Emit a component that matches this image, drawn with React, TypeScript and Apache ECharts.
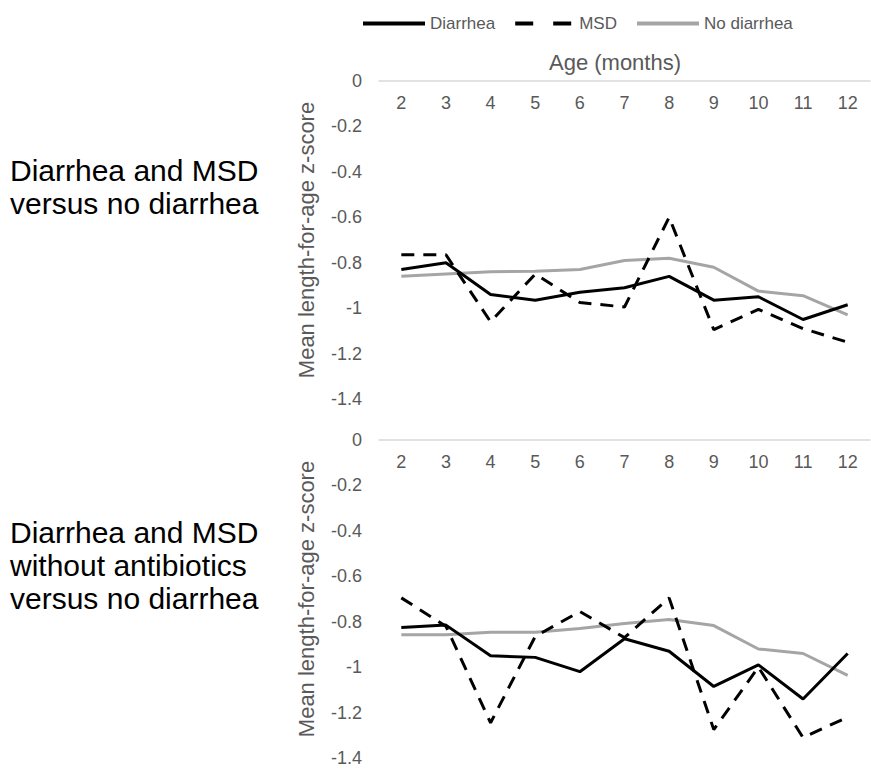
import React, { useEffect, useRef } from "react";
import * as echarts from "echarts";

const months = ["2", "3", "4", "5", "6", "7", "8", "9", "10", "11", "12"];
const yTicks = [0, -0.2, -0.4, -0.6, -0.8, -1, -1.2, -1.4];
const legendNames = ["Diarrhea", "MSD", "No diarrhea"];

// Panel 1: Diarrhea and MSD versus no diarrhea
const p1Diarrhea = [-0.83, -0.80, -0.94, -0.965, -0.93, -0.91, -0.86, -0.965, -0.95, -1.05, -0.985];
const p1MSD = [-0.765, -0.765, -1.06, -0.85, -0.975, -0.995, -0.6, -1.095, -1.005, -1.09, -1.15];
const p1NoDiarrhea = [-0.86, -0.85, -0.84, -0.838, -0.83, -0.79, -0.78, -0.82, -0.925, -0.945, -1.03];

// Panel 2: Diarrhea and MSD without antibiotics versus no diarrhea
const p2Diarrhea = [-0.825, -0.815, -0.95, -0.957, -1.02, -0.875, -0.93, -1.085, -0.99, -1.14, -0.94];
const p2MSD = [-0.695, -0.82, -1.245, -0.865, -0.755, -0.87, -0.695, -1.275, -1.0, -1.31, -1.22];
const p2NoDiarrhea = [-0.857, -0.857, -0.846, -0.846, -0.83, -0.808, -0.79, -0.817, -0.92, -0.94, -1.036];

const title1 = "Diarrhea and MSD\nversus no diarrhea";
const title2 = "Diarrhea and MSD\nwithout antibiotics\nversus no diarrhea";
const xName = "Age (months)";
const yName = "Mean length-for-age z-score";

const FONT = "Liberation Sans, Arial, sans-serif";
const TICK_COLOR = "#595959";
const BLACK = "#000000";
const GRAY = "#A5A5A5";

export default function App() {
  const ref = useRef<HTMLDivElement>(null);

  useEffect(() => {
    if (!ref.current) return;
    const chart = echarts.init(ref.current, undefined, { renderer: "svg" });

    const grids = [
      { left: 379, right: 1, top: 81, height: 318 },
      { left: 379, right: 1, top: 440, height: 318 },
    ];

    const xAxes = [0, 1].map((i) => ({
      type: "category",
      gridIndex: i,
      data: months,
      position: "top",
      boundaryGap: true,
      axisLine: { show: true, lineStyle: { color: "#D9D9D9", width: 1.5 } },
      axisTick: { show: false },
      axisLabel: {
        inside: true,
        margin: 13,
        color: TICK_COLOR,
        fontSize: 18,
        fontFamily: FONT,
      },
      splitLine: { show: false },
    }));

    const yAxes = [0, 1].map((i) => ({
      type: "value",
      gridIndex: i,
      min: -1.4,
      max: 0,
      interval: 0.2,
      name: yName,
      nameLocation: "middle",
      nameRotate: 90,
      nameGap: 62,
      nameTextStyle: { color: TICK_COLOR, fontSize: 22, fontFamily: FONT },
      axisLine: { show: false },
      axisTick: { show: false },
      splitLine: { show: false },
      axisLabel: {
        margin: 17,
        color: TICK_COLOR,
        fontSize: 18,
        fontFamily: FONT,
        formatter: (v: number) => {
          const t = yTicks.find((k) => Math.abs(k - v) < 1e-6);
          return String(t !== undefined ? t : Math.round(v * 10) / 10);
        },
      },
    }));

    const mk = (name: string, data: number[], idx: number, color: string, dashed: boolean) => ({
      name,
      type: "line",
      xAxisIndex: idx,
      yAxisIndex: idx,
      data,
      symbol: "none",
      showSymbol: false,
      lineStyle: { color, width: 3, type: dashed ? [13, 9] : "solid", cap: "butt" },
      itemStyle: { color },
      z: dashed ? 3 : color === BLACK ? 4 : 2,
    });

    chart.setOption({
      animation: false,
      backgroundColor: "#ffffff",
      legend: {
        top: 10,
        left: 358,
        itemWidth: 62,
        itemHeight: 4,
        itemGap: 20,
        textStyle: { color: TICK_COLOR, fontSize: 17, fontFamily: FONT },
        data: [
          { name: legendNames[0], icon: "rect", itemStyle: { color: BLACK } },
          { name: legendNames[1], icon: "path://M0,0h18v4h-18z M38,0h18v4h-18z", itemStyle: { color: BLACK } },
          { name: legendNames[2], icon: "rect", itemStyle: { color: GRAY } },
        ],
      },
      grid: grids,
      xAxis: xAxes,
      yAxis: yAxes,
      series: [
        mk(legendNames[0], p1Diarrhea, 0, BLACK, false),
        mk(legendNames[1], p1MSD, 0, BLACK, true),
        mk(legendNames[2], p1NoDiarrhea, 0, GRAY, false),
        mk(legendNames[0], p2Diarrhea, 1, BLACK, false),
        mk(legendNames[1], p2MSD, 1, BLACK, true),
        mk(legendNames[2], p2NoDiarrhea, 1, GRAY, false),
      ],
      graphic: [
        {
          type: "text",
          x: 615,
          y: 62,
          style: {
            text: xName,
            fill: TICK_COLOR,
            fontSize: 22,
            fontFamily: FONT,
            align: "center",
            verticalAlign: "middle",
          },
        },
        {
          type: "text",
          left: 10,
          top: 154,
          style: { text: title1, fill: BLACK, fontSize: 30, lineHeight: 33, fontFamily: FONT },
        },
        {
          type: "text",
          left: 10,
          top: 516,
          style: { text: title2, fill: BLACK, fontSize: 30, lineHeight: 33, fontFamily: FONT },
        },
      ],
    });

    return () => chart.dispose();
  }, []);

  return (
    <div
      ref={ref}
      style={{ position: "fixed", left: 0, top: 0, width: 871, height: 782, background: "#fff" }}
    />
  );
}
